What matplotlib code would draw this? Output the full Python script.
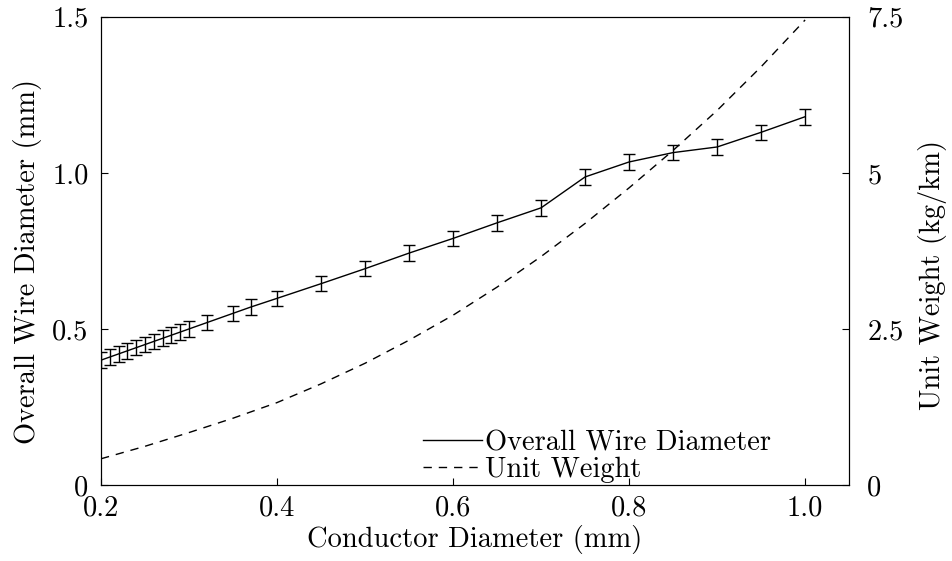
import matplotlib.pyplot as plt
from matplotlib.lines import Line2D

plt.rcParams['font.family'] = ['cmr10', 'DejaVu Serif']
plt.rcParams['mathtext.fontset'] = 'cm'
plt.rcParams['axes.unicode_minus'] = False

# Overall wire diameter (left axis) with error bars
diam_x = [0.20, 0.21, 0.22, 0.23, 0.24, 0.25, 0.26, 0.27, 0.28, 0.29, 0.30,
          0.32, 0.35, 0.37, 0.40, 0.45, 0.50, 0.55, 0.60, 0.65, 0.70,
          0.75, 0.80, 0.85, 0.90, 0.95, 1.00]
diam_y = [0.400, 0.410, 0.420, 0.430, 0.440, 0.450, 0.460, 0.470, 0.480, 0.490, 0.500,
          0.520, 0.550, 0.570, 0.598, 0.645, 0.693, 0.743, 0.790, 0.840, 0.888,
          0.987, 1.035, 1.065, 1.083, 1.130, 1.180]
diam_err = 0.025

# Unit weight (right axis)
wt_x = [0.20, 0.25, 0.30, 0.35, 0.40, 0.45, 0.50, 0.55, 0.60, 0.65,
        0.70, 0.75, 0.80, 0.85, 0.90, 0.95, 1.00]
wt_y = [0.42, 0.62, 0.84, 1.07, 1.32, 1.62, 1.95, 2.32, 2.72, 3.17,
        3.66, 4.19, 4.76, 5.36, 6.00, 6.70, 7.45]

FS = 20.5

fig = plt.figure(figsize=(9.53, 5.61), dpi=100)
ax = fig.add_axes([0.106, 0.1355, 0.785, 0.8345])
ax2 = ax.twinx()

ax.errorbar(diam_x, diam_y, yerr=diam_err, color='black', lw=1.0,
            elinewidth=1.0, capsize=4.5, capthick=1.0)
ax2.plot(wt_x, wt_y, color='black', lw=1.0, dashes=(6, 5))

ax.set_xlim(0.2, 1.05)
ax.set_ylim(0, 1.5)
ax2.set_ylim(0, 7.5)

ax.set_xticks([0.2, 0.4, 0.6, 0.8, 1.0])
ax.set_xticklabels(['0.2', '0.4', '0.6', '0.8', '1.0'])
ax.set_yticks([0, 0.5, 1.0, 1.5])
ax.set_yticklabels(['0', '0.5', '1.0', '1.5'])
ax2.set_yticks([0, 2.5, 5, 7.5])
ax2.set_yticklabels(['0', '2.5', '5', '7.5'])

ax.tick_params(direction='in', length=5, width=0.8, labelsize=FS)
ax.tick_params(axis='x', pad=7)
ax.tick_params(axis='y', pad=9)
ax2.tick_params(direction='in', length=5, width=0.8, labelsize=FS, pad=13)

ax.set_xlabel('Conductor Diameter (mm)', fontsize=FS)
ax.set_ylabel('Overall Wire Diameter (mm)', fontsize=FS)
ax2.set_ylabel('Unit Weight (kg/km)', fontsize=FS)
ax.xaxis.set_label_coords(0.5, -0.085)
ax.yaxis.set_label_coords(-0.079, 0.477)
ax2.yaxis.set_label_coords(1.092, 0.449)

handles = [Line2D([], [], color='black', lw=1.0),
           Line2D([], [], color='black', lw=1.0, dashes=(6, 5))]
ax.legend(handles, ['Overall Wire Diameter', 'Unit Weight'],
          loc='lower left', bbox_to_anchor=(0.43, 0.005), frameon=False,
          fontsize=FS, handlelength=2.1, handletextpad=0.1,
          labelspacing=0.0, borderaxespad=0, borderpad=0)

fig.savefig('out.png', dpi=100)
